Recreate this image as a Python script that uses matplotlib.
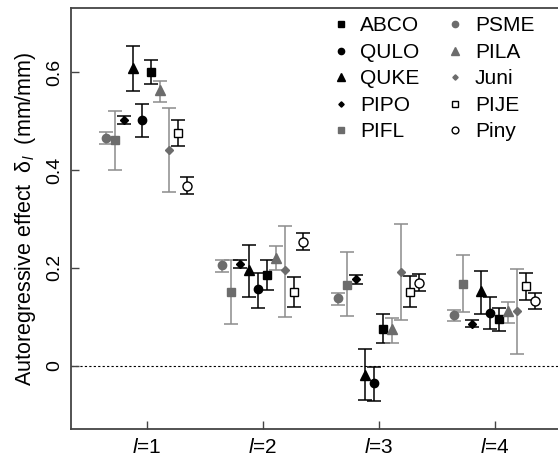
import numpy as np
import matplotlib
matplotlib.use("Agg")
import matplotlib.pyplot as plt
from matplotlib.lines import Line2D

plt.rcParams['font.family'] = ['Liberation Sans', 'DejaVu Sans']
plt.rcParams['mathtext.fontset'] = 'custom'
plt.rcParams['mathtext.rm'] = 'Liberation Sans'
plt.rcParams['mathtext.it'] = 'Liberation Sans:italic'

# lag labels
lags = ["$l$=1", "$l$=2", "$l$=3", "$l$=4"]
lag_x = [1, 2, 3, 4]

# species in plotting order (left to right inside each group)
species = ["PSME", "PIFL", "PIPO", "QUKE", "QULO", "ABCO", "PILA", "Juni", "PIJE", "Piny"]

# estimates and interval bounds per species, lags 1..4
est = {
    "ABCO": [0.600, 0.185, 0.076, 0.095],
    "QULO": [0.502, 0.156, -0.036, 0.107],
    "QUKE": [0.608, 0.195, -0.018, 0.152],
    "PIPO": [0.503, 0.208, 0.177, 0.086],
    "PIFL": [0.461, 0.151, 0.166, 0.168],
    "PSME": [0.466, 0.206, 0.138, 0.103],
    "PILA": [0.563, 0.221, 0.075, 0.112],
    "Juni": [0.442, 0.195, 0.192, 0.112],
    "PIJE": [0.476, 0.151, 0.151, 0.162],
    "Piny": [0.368, 0.253, 0.170, 0.132],
}
lower = {
    "ABCO": [0.577, 0.155, 0.047, 0.070],
    "QULO": [0.468, 0.119, -0.072, 0.075],
    "QUKE": [0.561, 0.141, -0.071, 0.105],
    "PIPO": [0.494, 0.199, 0.168, 0.079],
    "PIFL": [0.400, 0.085, 0.102, 0.110],
    "PSME": [0.453, 0.192, 0.125, 0.092],
    "PILA": [0.539, 0.196, 0.046, 0.087],
    "Juni": [0.355, 0.100, 0.093, 0.024],
    "PIJE": [0.449, 0.121, 0.120, 0.134],
    "Piny": [0.351, 0.236, 0.153, 0.117],
}
upper = {
    "ABCO": [0.626, 0.216, 0.105, 0.119],
    "QULO": [0.536, 0.190, -0.002, 0.140],
    "QUKE": [0.653, 0.246, 0.034, 0.194],
    "PIPO": [0.510, 0.217, 0.185, 0.094],
    "PIFL": [0.520, 0.217, 0.232, 0.226],
    "PSME": [0.477, 0.217, 0.149, 0.113],
    "PILA": [0.583, 0.245, 0.098, 0.131],
    "Juni": [0.527, 0.285, 0.289, 0.198],
    "PIJE": [0.503, 0.181, 0.183, 0.189],
    "Piny": [0.385, 0.272, 0.188, 0.149],
}

gray = "#6c6c6c"
gray_bar = "#8c8c8c"
# marker, size, face, edge, bar colour
style = {
    "ABCO": ("s", 5.8, "black", "black", "black"),
    "QULO": ("o", 6.0, "black", "black", "black"),
    "QUKE": ("^", 7.5, "black", "black", "black"),
    "PIPO": ("D", 3.6, "black", "black", "black"),
    "PIFL": ("s", 5.8, gray, gray, gray_bar),
    "PSME": ("o", 6.0, gray, gray, gray_bar),
    "PILA": ("^", 7.5, gray, gray, gray_bar),
    "Juni": ("D", 3.6, gray, gray, gray_bar),
    "PIJE": ("s", 6.3, "white", "black", "black"),
    "Piny": ("o", 6.5, "white", "black", "black"),
}

fig = plt.figure(figsize=(5.58, 4.58), dpi=100)
ax = fig.add_axes([0.1272, 0.0627, 0.8728, 0.9198])

ax.axhline(0, color="black", linestyle=(0, (2, 2)), linewidth=0.8, zorder=1)

n = len(species)
step = 0.077
for k, sp in enumerate(species):
    x = np.array(lag_x) + (k - (n - 1) / 2) * step
    y = np.array(est[sp])
    yerr = [y - np.array(lower[sp]), np.array(upper[sp]) - y]
    m, ms, fc, ec, bc = style[sp]
    ax.errorbar(x, y, yerr=yerr, fmt="none", ecolor=bc, elinewidth=1.1,
                capsize=4.8, capthick=1.1, zorder=2)
    ax.plot(x, y, linestyle="none", marker=m, markersize=ms, markerfacecolor=fc,
            markeredgecolor=ec, markeredgewidth=1.0, zorder=3)

ax.set_xlim(0.3474, 4.546)
ax.set_ylim(-0.130, 0.7315)
ax.set_xticks(lag_x)
ax.set_xticklabels(lags, fontsize=15)
ax.set_yticks([0, 0.2, 0.4, 0.6])
ax.set_yticklabels(["0", "0.2", "0.4", "0.6"], fontsize=14, rotation=90, va="center")
ax.tick_params(direction="in", length=5.8, width=1.0, color="#444444")
ax.tick_params(axis="x", pad=6)
ax.tick_params(axis="y", pad=5.5)

ax.spines["right"].set_visible(False)
for s in ["left", "bottom", "top"]:
    ax.spines[s].set_color("#444444")
    ax.spines[s].set_linewidth(1.3)

ax.set_ylabel(r"Autoregressive effect  $\mathrm{\delta}_{l}$  (mm/mm)", fontsize=15.5, labelpad=6)

# legend, two columns
leg_order = ["ABCO", "QULO", "QUKE", "PIPO", "PIFL", "PSME", "PILA", "Juni", "PIJE", "Piny"]
handles = []
for sp in leg_order:
    m, ms, fc, ec, bc = style[sp]
    handles.append(Line2D([], [], linestyle="none", marker=m, markersize=ms * 0.75,
                          markerfacecolor=fc, markeredgecolor=ec, markeredgewidth=1.0))
fig.legend(handles, leg_order, ncol=2, loc="upper left", bbox_to_anchor=(0.5954, 0.964),
           frameon=False, fontsize=15, handlelength=0.8, handletextpad=0.55,
           columnspacing=1.3, labelspacing=0.36, borderpad=0, borderaxespad=0)

fig.savefig("out.png", dpi=100)
